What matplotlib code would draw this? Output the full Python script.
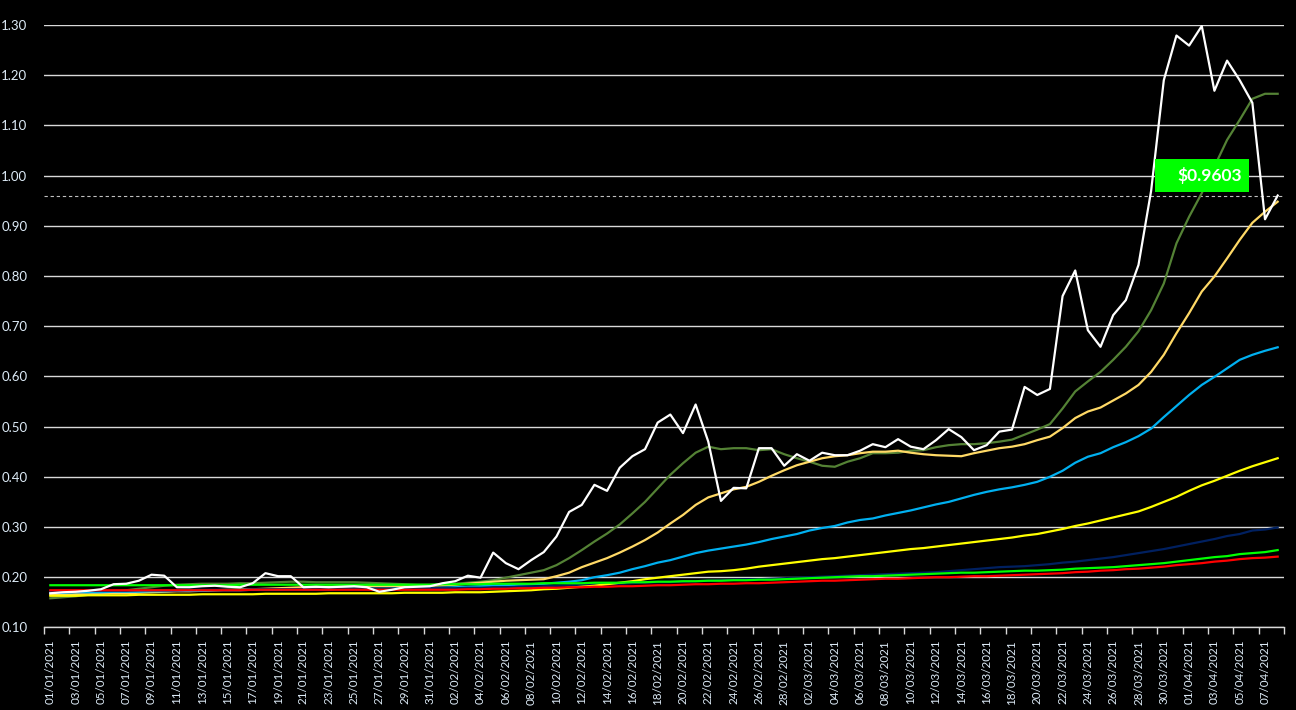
import datetime
import matplotlib

matplotlib.use('Agg')  # backend to non-interactive
import matplotlib.pyplot as plt
from matplotlib.patches import Rectangle

plt.rcParams['font.family'] = ['Lato', 'DejaVu Sans']

# Dates: 01/01/2021 .. 08/04/2021, one point per day
start = datetime.date(2021, 1, 1)
dates = [start + datetime.timedelta(days=i) for i in range(98)]
date_labels = [d.strftime('%d/%m/%Y') for d in dates]

# Price (white line)
price = [
    0.168, 0.170, 0.171, 0.173, 0.176, 0.186, 0.187, 0.193, 0.205, 0.203,
    0.180, 0.180, 0.182, 0.183, 0.181, 0.180, 0.188, 0.208, 0.202, 0.202,
    0.180, 0.181, 0.180, 0.181, 0.182, 0.180, 0.171, 0.175, 0.180, 0.181,
    0.182, 0.188, 0.192, 0.203, 0.199, 0.249, 0.228, 0.216, 0.234, 0.250,
    0.281, 0.330, 0.344, 0.384, 0.372, 0.418, 0.441, 0.455, 0.508, 0.524,
    0.487, 0.544, 0.470, 0.352, 0.378, 0.377, 0.457, 0.457, 0.422, 0.445,
    0.432, 0.448, 0.443, 0.443, 0.452, 0.465, 0.459, 0.475, 0.460, 0.455,
    0.473, 0.495, 0.479, 0.453, 0.463, 0.490, 0.494, 0.579, 0.563, 0.575,
    0.760, 0.811, 0.692, 0.659, 0.722, 0.752, 0.822, 0.970, 1.190, 1.279,
    1.259, 1.298, 1.169, 1.229, 1.190, 1.145, 0.913, 0.9603,
]

# Moving averages
ma_olive = [
    0.158, 0.160, 0.162, 0.165, 0.168, 0.171, 0.174, 0.177, 0.180, 0.183,
    0.185, 0.186, 0.187, 0.187, 0.187, 0.188, 0.188, 0.189, 0.190, 0.191,
    0.191, 0.190, 0.190, 0.190, 0.190, 0.189, 0.188, 0.187, 0.186, 0.185,
    0.185, 0.186, 0.187, 0.189, 0.191, 0.194, 0.199, 0.204, 0.209, 0.214,
    0.224, 0.238, 0.254, 0.271, 0.287, 0.305, 0.327, 0.350, 0.377, 0.404,
    0.427, 0.448, 0.460, 0.455, 0.457, 0.457, 0.453, 0.455, 0.445, 0.437,
    0.430, 0.422, 0.420, 0.430, 0.437, 0.447, 0.447, 0.448, 0.452, 0.453,
    0.459, 0.463, 0.465, 0.465, 0.467, 0.470, 0.474, 0.484, 0.494, 0.505,
    0.536, 0.570, 0.590, 0.609, 0.633, 0.659, 0.690, 0.732, 0.785, 0.865,
    0.918, 0.965, 1.018, 1.071, 1.111, 1.153, 1.163, 1.163,
]
ma_orange = [
    0.165, 0.165, 0.166, 0.166, 0.167, 0.168, 0.168, 0.169, 0.170, 0.171,
    0.172, 0.172, 0.173, 0.174, 0.175, 0.176, 0.176, 0.177, 0.178, 0.179,
    0.180, 0.180, 0.181, 0.181, 0.182, 0.182, 0.182, 0.182, 0.182, 0.182,
    0.183, 0.184, 0.185, 0.187, 0.189, 0.191, 0.193, 0.194, 0.195, 0.196,
    0.202, 0.209, 0.220, 0.229, 0.238, 0.249, 0.261, 0.274, 0.289, 0.307,
    0.324, 0.344, 0.359, 0.367, 0.375, 0.380, 0.390, 0.402, 0.413, 0.423,
    0.430, 0.437, 0.441, 0.443, 0.447, 0.450, 0.450, 0.452, 0.448, 0.445,
    0.443, 0.442, 0.441, 0.447, 0.452, 0.457, 0.460, 0.465, 0.473, 0.480,
    0.497, 0.517, 0.530, 0.538, 0.552, 0.566, 0.583, 0.609, 0.643, 0.686,
    0.726, 0.769, 0.799, 0.835, 0.872, 0.906, 0.928, 0.948,
]
ma_blue = [
    0.169, 0.169, 0.170, 0.170, 0.170, 0.171, 0.171, 0.171, 0.172, 0.172,
    0.173, 0.173, 0.173, 0.174, 0.174, 0.174, 0.175, 0.175, 0.175, 0.176,
    0.176, 0.176, 0.176, 0.177, 0.177, 0.177, 0.177, 0.177, 0.178, 0.178,
    0.178, 0.179, 0.180, 0.181, 0.182, 0.183, 0.184, 0.185, 0.186, 0.187,
    0.189, 0.191, 0.194, 0.200, 0.204, 0.209, 0.216, 0.222, 0.229, 0.234,
    0.241, 0.248, 0.253, 0.257, 0.261, 0.265, 0.270, 0.276, 0.281, 0.286,
    0.293, 0.298, 0.302, 0.309, 0.314, 0.317, 0.323, 0.328, 0.333, 0.339,
    0.345, 0.350, 0.357, 0.364, 0.370, 0.375, 0.379, 0.384, 0.390, 0.400,
    0.412, 0.428, 0.440, 0.447, 0.459, 0.469, 0.481, 0.496, 0.519, 0.541,
    0.563, 0.583, 0.599, 0.616, 0.633, 0.643, 0.651, 0.658,
]
ma_yellow = [
    0.163, 0.163, 0.163, 0.164, 0.164, 0.164, 0.164, 0.165, 0.165, 0.165,
    0.165, 0.165, 0.166, 0.166, 0.166, 0.166, 0.166, 0.167, 0.167, 0.167,
    0.167, 0.167, 0.168, 0.168, 0.168, 0.168, 0.168, 0.168, 0.169, 0.169,
    0.169, 0.169, 0.170, 0.170, 0.170, 0.171, 0.172, 0.173, 0.174, 0.176,
    0.177, 0.179, 0.181, 0.183, 0.186, 0.189, 0.192, 0.196, 0.199, 0.202,
    0.205, 0.208, 0.211, 0.212, 0.214, 0.217, 0.221, 0.224, 0.227, 0.230,
    0.233, 0.236, 0.238, 0.241, 0.244, 0.247, 0.250, 0.253, 0.256, 0.258,
    0.261, 0.264, 0.267, 0.270, 0.273, 0.276, 0.279, 0.283, 0.286, 0.291,
    0.296, 0.302, 0.307, 0.313, 0.319, 0.325, 0.331, 0.340, 0.350, 0.360,
    0.372, 0.383, 0.392, 0.402, 0.412, 0.421, 0.429, 0.437,
]
ma_navy = [
    0.172, 0.172, 0.172, 0.173, 0.173, 0.173, 0.173, 0.174, 0.174, 0.174,
    0.174, 0.175, 0.175, 0.175, 0.175, 0.175, 0.176, 0.176, 0.176, 0.176,
    0.176, 0.176, 0.177, 0.177, 0.177, 0.177, 0.177, 0.177, 0.177, 0.178,
    0.178, 0.178, 0.178, 0.179, 0.179, 0.180, 0.180, 0.181, 0.181, 0.182,
    0.183, 0.184, 0.185, 0.186, 0.186, 0.187, 0.188, 0.189, 0.190, 0.190,
    0.191, 0.192, 0.193, 0.194, 0.195, 0.196, 0.196, 0.197, 0.198, 0.199,
    0.200, 0.201, 0.202, 0.203, 0.204, 0.205, 0.206, 0.207, 0.208, 0.209,
    0.210, 0.212, 0.214, 0.216, 0.218, 0.220, 0.221, 0.222, 0.224, 0.226,
    0.229, 0.231, 0.234, 0.237, 0.240, 0.244, 0.248, 0.252, 0.256, 0.261,
    0.266, 0.271, 0.276, 0.282, 0.286, 0.293, 0.295, 0.299,
]
ma_green = [
    0.184, 0.184, 0.184, 0.184, 0.184, 0.184, 0.184, 0.184, 0.184, 0.184,
    0.184, 0.184, 0.184, 0.184, 0.184, 0.185, 0.185, 0.185, 0.185, 0.185,
    0.185, 0.185, 0.185, 0.185, 0.185, 0.185, 0.185, 0.185, 0.185, 0.185,
    0.185, 0.186, 0.186, 0.186, 0.186, 0.187, 0.187, 0.187, 0.187, 0.188,
    0.188, 0.188, 0.188, 0.189, 0.189, 0.189, 0.190, 0.190, 0.191, 0.191,
    0.192, 0.192, 0.193, 0.193, 0.194, 0.194, 0.195, 0.195, 0.196, 0.197,
    0.198, 0.199, 0.200, 0.201, 0.202, 0.202, 0.203, 0.204, 0.205, 0.206,
    0.207, 0.208, 0.209, 0.209, 0.210, 0.211, 0.212, 0.213, 0.213, 0.214,
    0.215, 0.217, 0.218, 0.219, 0.220, 0.222, 0.224, 0.226, 0.228, 0.231,
    0.234, 0.237, 0.240, 0.242, 0.246, 0.248, 0.250, 0.254,
]
ma_red = [
    0.174, 0.174, 0.174, 0.174, 0.174, 0.174, 0.174, 0.174, 0.174, 0.174,
    0.174, 0.174, 0.174, 0.174, 0.174, 0.174, 0.175, 0.175, 0.175, 0.175,
    0.175, 0.175, 0.175, 0.175, 0.175, 0.175, 0.175, 0.175, 0.175, 0.175,
    0.175, 0.175, 0.175, 0.176, 0.176, 0.177, 0.177, 0.178, 0.178, 0.179,
    0.179, 0.180, 0.180, 0.181, 0.181, 0.182, 0.182, 0.183, 0.184, 0.184,
    0.185, 0.186, 0.186, 0.187, 0.187, 0.188, 0.188, 0.189, 0.190, 0.191,
    0.192, 0.193, 0.193, 0.194, 0.195, 0.196, 0.197, 0.197, 0.198, 0.199,
    0.200, 0.200, 0.201, 0.202, 0.202, 0.203, 0.204, 0.205, 0.206, 0.207,
    0.208, 0.210, 0.211, 0.213, 0.214, 0.216, 0.217, 0.219, 0.221, 0.224,
    0.226, 0.228, 0.231, 0.233, 0.236, 0.238, 0.239, 0.241,
]

y_ticks = [0.10, 0.20, 0.30, 0.40, 0.50, 0.60, 0.70, 0.80, 0.90, 1.00, 1.10, 1.20, 1.30]

text_color = '#DDEBF7'
grid_color = '#D9D9D9'

fig = plt.figure(figsize=(12.96, 7.10), dpi=100, facecolor='black')
ax = fig.add_axes([44 / 1296, 1 - 627.4 / 710, 1240 / 1296, (627.4 - 25) / 710])
ax.set_facecolor('black')

x = list(range(len(dates)))

# horizontal gridlines
for v in y_ticks:
    ax.axhline(v, color=grid_color, lw=1.0, zorder=1)

# last price dashed line
ax.axhline(price[-1], color='#BFBFBF', lw=0.8, linestyle=(0, (3, 2.5)), zorder=1)

lw = 1.6
ax.plot(x, ma_olive, color='#548235', lw=lw, zorder=3)
ax.plot(x, ma_orange, color='#FFD966', lw=lw, zorder=3)
ax.plot(x, ma_blue, color='#00B0F0', lw=lw, zorder=3)
ax.plot(x, ma_navy, color='#002060', lw=lw, zorder=3)
ax.plot(x, ma_yellow, color='#FFFF00', lw=lw, zorder=3)
ax.plot(x, ma_red, color='#FF0000', lw=lw, zorder=3)
ax.plot(x, ma_green, color='#00FF00', lw=lw, zorder=3)
ax.plot(x, price, color='white', lw=lw, zorder=4)

# price label box
ax.add_patch(Rectangle((87.3, 0.968), 7.4, 0.065, facecolor='#00FF00',
                       edgecolor='none', zorder=5))
ax.text(94.15, 1.0005, f"${price[-1]:.4f}", color='white', fontsize=12.5,
        fontweight='bold', ha='right', va='center', zorder=6)

ax.set_xlim(-0.5, len(dates) - 0.5)
ax.set_ylim(0.10, 1.30)

# y axis
ax.set_yticks(y_ticks)
ax.set_yticklabels([f"{v:.2f}" for v in y_ticks])
ax.tick_params(axis='y', length=0, pad=12, labelsize=9.5, labelcolor=text_color)

# x axis: tick marks between categories, labels every 2 days
ax.set_xticks([i - 0.5 for i in range(0, len(dates) + 1, 2)])
ax.set_xticklabels([])
ax.tick_params(axis='x', which='major', length=5, width=1, color=grid_color, direction='out')
ax.set_xticks(x[::2], minor=True)
ax.set_xticklabels(date_labels[::2], minor=True, rotation=90)
ax.tick_params(axis='x', which='minor', length=0, pad=9, labelsize=8.4, labelcolor=text_color)

for side in ['top', 'right', 'left']:
    ax.spines[side].set_visible(False)
ax.spines['bottom'].set_color(grid_color)
ax.spines['bottom'].set_linewidth(1.0)

fig.savefig('out.png', dpi=100, facecolor='black')
